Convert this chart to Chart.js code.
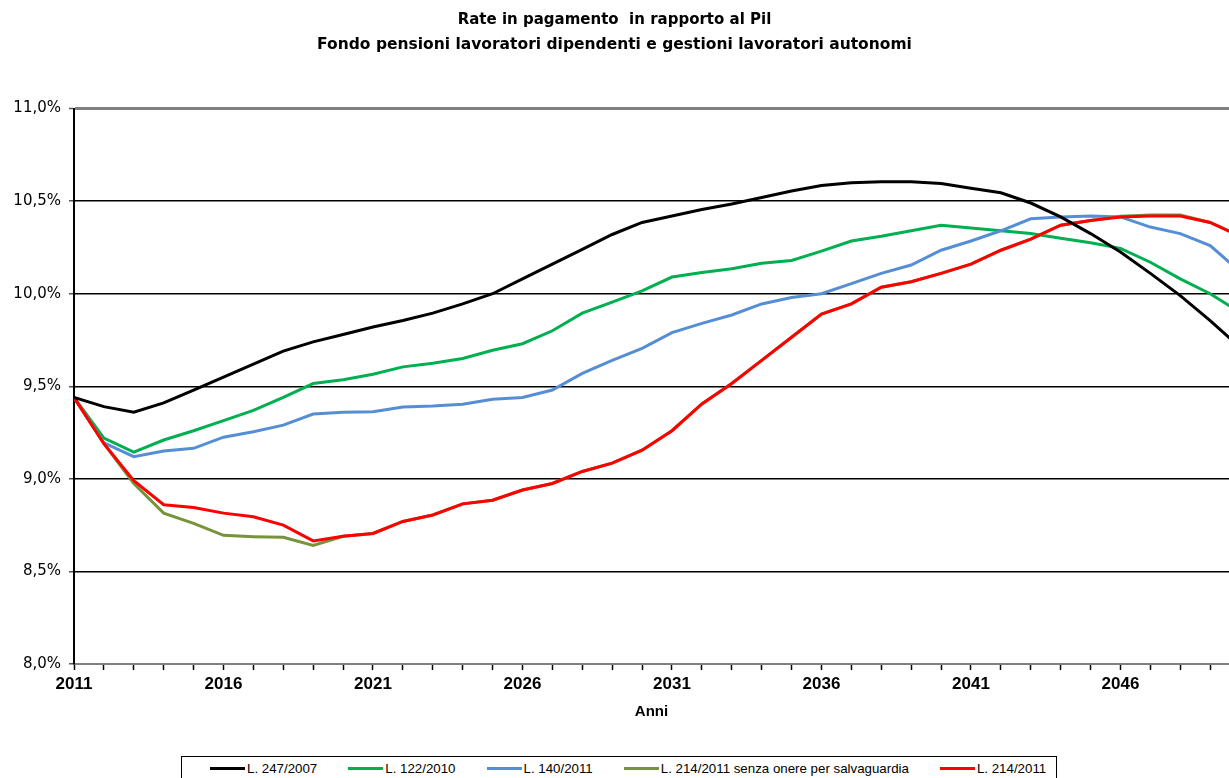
<!DOCTYPE html>
<html>
<head>
<meta charset="utf-8">
<script src="https://cdn.jsdelivr.net/npm/chart.js@4/dist/chart.umd.min.js"></script>
<style>
  html, body { margin: 0; padding: 0; background: #fff; overflow: hidden; }
  body { width: 1229px; height: 778px; position: relative; font-family: "Liberation Sans", Arial, sans-serif; }
  #chart { position: absolute; left: 0; top: 0; }
  #legend {
    position: absolute; left: 181px; top: 756px; width: 876px; height: 40px;
    border: 1px solid #000; box-sizing: border-box;
    display: flex; align-items: flex-start; padding: 4px 0 0 28px; gap: 31px;
    font-size: 13.3px; color: #000;
  }
  #legend .item { display: flex; align-items: center; white-space: nowrap; }
  #legend .swatch { width: 35px; height: 3px; margin-right: 2px; }
</style>
</head>
<body>
<canvas id="chart" width="1229" height="745"></canvas>
<div id="legend"></div>
<script>
// anni di proiezione
const years = [
  2011, 2012, 2013, 2014, 2015, 2016, 2017, 2018, 2019, 2020,
  2021, 2022, 2023, 2024, 2025, 2026, 2027, 2028, 2029, 2030,
  2031, 2032, 2033, 2034, 2035, 2036, 2037, 2038, 2039, 2040,
  2041, 2042, 2043, 2044, 2045, 2046, 2047, 2048, 2049, 2050
];

// rate in pagamento / Pil (%) per normativa
const l247_2007 = [
  9.44, 9.39, 9.36, 9.41, 9.48, 9.55, 9.62, 9.69, 9.74, 9.78,
  9.82, 9.855, 9.895, 9.945, 10.00, 10.08, 10.16, 10.24, 10.32, 10.385,
  10.42, 10.455, 10.485, 10.52, 10.555, 10.585, 10.60, 10.605, 10.605, 10.595,
  10.57, 10.545, 10.49, 10.415, 10.325, 10.225, 10.11, 9.99, 9.855, 9.71
];
const l122_2010 = [
  9.44, 9.22, 9.145, 9.21, 9.26, 9.315, 9.37, 9.44, 9.515, 9.535,
  9.565, 9.605, 9.625, 9.65, 9.695, 9.73, 9.80, 9.895, 9.955, 10.015,
  10.09, 10.115, 10.135, 10.165, 10.18, 10.23, 10.285, 10.31, 10.34, 10.37,
  10.355, 10.34, 10.325, 10.30, 10.275, 10.245, 10.17, 10.08, 10.00, 9.90
];
const l140_2011 = [
  9.44, 9.195, 9.12, 9.15, 9.165, 9.225, 9.255, 9.29, 9.35, 9.36,
  9.362, 9.388, 9.393, 9.403, 9.43, 9.44, 9.48, 9.57, 9.64, 9.705,
  9.79, 9.84, 9.885, 9.945, 9.98, 10.00, 10.055, 10.11, 10.155, 10.235,
  10.285, 10.34, 10.405, 10.415, 10.42, 10.415, 10.36, 10.325, 10.26, 10.12
];
const l214_2011_senzaOnere = [
  9.44, 9.19, 8.975, 8.815, 8.76, 8.695, 8.688, 8.684, 8.64, 8.69,
  8.705, 8.77, 8.805, 8.865, 8.885, 8.94, 8.975, 9.04, 9.085, 9.155,
  9.26, 9.405, 9.515, 9.64, 9.765, 9.89, 9.945, 10.035, 10.065, 10.11,
  10.16, 10.235, 10.295, 10.37, 10.395, 10.418, 10.425, 10.425, 10.385, 10.31
];
const l214_2011 = [
  9.44, 9.19, 8.99, 8.86, 8.845, 8.815, 8.795, 8.75, 8.665, 8.69,
  8.705, 8.77, 8.805, 8.865, 8.885, 8.94, 8.975, 9.04, 9.085, 9.155,
  9.26, 9.405, 9.515, 9.64, 9.765, 9.89, 9.945, 10.035, 10.065, 10.11,
  10.16, 10.235, 10.295, 10.37, 10.395, 10.415, 10.42, 10.42, 10.385, 10.31
];

const yTicks = [8.0, 8.5, 9.0, 9.5, 10.0, 10.5, 11.0];
const xLabelYears = [2011, 2016, 2021, 2026, 2031, 2036, 2041, 2046];

const seriesNames = [
  'L. 247/2007',
  'L. 122/2010',
  'L. 140/2011',
  'L. 214/2011 senza onere per salvaguardia',
  'L. 214/2011'
];
const seriesData = [l247_2007, l122_2010, l140_2011, l214_2011_senzaOnere, l214_2011];
const seriesColors = ['#000000', '#00b050', '#558ed5', '#77933c', '#ff0000'];
const drawOrder = [0, 4, 3, 2, 1];

const FONT = '"Liberation Sans", Arial, sans-serif';
const WIDE = '"DejaVu Sans", "Liberation Sans", sans-serif';

const datasets = seriesNames.map((name, i) => ({
  label: name,
  data: years.map((yr, j) => ({ x: yr, y: seriesData[i][j] })),
  borderColor: seriesColors[i],
  backgroundColor: seriesColors[i],
  borderWidth: 3,
  pointRadius: 0,
  tension: 0,
  order: drawOrder[i]
}));

new Chart(document.getElementById('chart'), {
  type: 'line',
  data: { datasets },
  options: {
    responsive: false,
    animation: false,
    events: [],
    layout: { padding: 0 },
    plugins: {
      legend: { display: false },
      tooltip: { enabled: false },
      title: {
        display: true,
        text: 'Rate in pagamento  in rapporto al Pil',
        color: '#000',
        font: { family: WIDE, size: 15, weight: 'bold' },
        padding: { top: 11, bottom: 7 }
      },
      subtitle: {
        display: true,
        text: 'Fondo pensioni lavoratori dipendenti e gestioni lavoratori autonomi',
        color: '#000',
        font: { family: WIDE, size: 15.5, weight: 'bold' },
        padding: { top: 0, bottom: 54 }
      }
    },
    scales: {
      x: {
        type: 'linear',
        min: 2011,
        max: 2049.63,
        afterFit: (scale) => { scale.height = 81; },
        border: { display: true, color: '#808080', width: 2 },
        grid: {
          drawOnChartArea: false,
          drawTicks: true,
          tickLength: 6,
          tickColor: '#000',
          tickWidth: 1.5
        },
        ticks: {
          stepSize: 1,
          autoSkip: false,
          includeBounds: false,
          maxRotation: 0,
          padding: 4,
          color: '#000',
          font: { family: FONT, size: 17, weight: 'bold' },
          callback: (v) => xLabelYears.includes(v) ? String(v) : ''
        },
        title: {
          display: true,
          text: 'Anni',
          color: '#000',
          font: { family: FONT, size: 15, weight: 'bold' },
          padding: { top: 0, bottom: 24 }
        }
      },
      y: {
        min: 8,
        max: 11,
        afterFit: (scale) => { scale.width = 74; },
        afterBuildTicks: (scale) => { scale.ticks = yTicks.map(v => ({ value: v })); },
        border: { display: true, color: '#000', width: 2 },
        grid: {
          color: (ctx) => (ctx.tick && (ctx.tick.value === 11 || ctx.tick.value === 8)) ? '#808080' : '#000',
          lineWidth: (ctx) => (ctx.tick && ctx.tick.value === 11) ? 3 : 1.5,
          tickLength: 5,
          tickColor: '#555',
          tickWidth: 1.5
        },
        ticks: {
          padding: 8,
          color: '#000',
          font: { family: WIDE, size: 15 },
          callback: (v) => v.toFixed(1).replace('.', ',') + '%'
        }
      }
    }
  }
});

// legenda in fondo, dentro un riquadro
const legend = document.getElementById('legend');
seriesNames.forEach((name, i) => {
  const item = document.createElement('div');
  item.className = 'item';
  const sw = document.createElement('span');
  sw.className = 'swatch';
  sw.style.background = seriesColors[i];
  const txt = document.createElement('span');
  txt.textContent = name;
  item.appendChild(sw);
  item.appendChild(txt);
  legend.appendChild(item);
});
</script>
</body>
</html>
